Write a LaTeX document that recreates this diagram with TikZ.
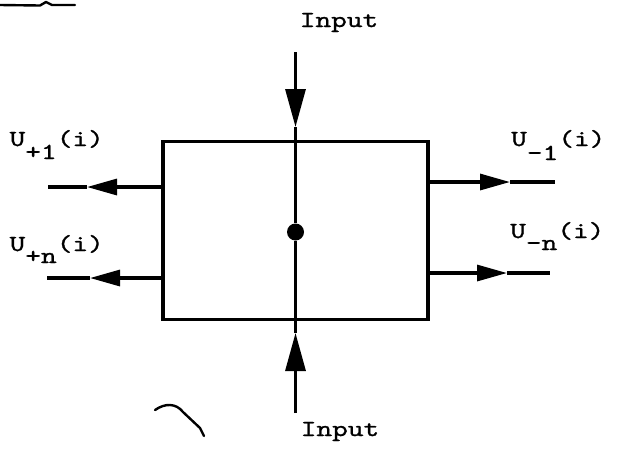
\documentclass[tikz,border=0pt]{standalone}
\usepackage{fontspec}
\newfontfamily\tw[FakeStretch=1.3,FakeBold=1.1]{lmmono10-regular.otf}
\usetikzlibrary{arrows.meta}
\begin{document}
\begin{tikzpicture}[x=1pt,y=-1pt,
  wire/.style={line width=3.2pt},
  harrow/.style={wire,-{Triangle[length=30pt,width=16pt]}},
  varrow/.style={wire,-{Triangle[length=38pt,width=20pt]}},
  lbl/.style={font=\tw\fontsize{23}{26}\selectfont, inner sep=0pt},
  scrib/.style={line width=2.4pt, line cap=round, line join=round}
]
\useasboundingbox (0,0) rectangle (620,448);
% block
\node[draw, wire, minimum width=265pt, minimum height=178pt, inner sep=0pt] (box) at (295.5,230.5) {};
\node[circle, fill, inner sep=0pt, minimum size=17pt] (dot) at (295.5,232) {};
% left outputs
\coordinate (lt) at (48,187);  \coordinate (ltip) at (87,187);
\draw[harrow] (box.west |- lt) -- (ltip); \draw[wire] (ltip) -- (lt);
\coordinate (lb) at (47,278);  \coordinate (lbtip) at (90,278);
\draw[harrow] (box.west |- lb) -- (lbtip); \draw[wire] (lbtip) -- (lb);
% right outputs
\coordinate (rt) at (555,182); \coordinate (rtip) at (510,182);
\draw[harrow] (box.east |- rt) -- (rtip); \draw[wire] (rtip) -- (rt);
\coordinate (rb) at (550,273); \coordinate (rbtip) at (507,273);
\draw[harrow] (box.east |- rb) -- (rbtip); \draw[wire] (rbtip) -- (rb);
% inputs
\coordinate (tt) at (295.5,52); \coordinate (ttip) at (295.5,127);
\draw[varrow] (tt) -- (ttip); \draw[wire] (ttip) -- (box.north);
\draw[wire] (box.north) -- (dot) -- (box.south);
\coordinate (bt) at (295.5,413); \coordinate (btip) at (295.5,333);
\draw[varrow] (bt) -- (btip); \draw[wire] (btip) -- (box.south);
% labels
\node[lbl, anchor=base] (intop) at (339,27) {Input};
\node[lbl, anchor=base] (inbot) at (340,436) {Input};
\node[lbl, anchor=base east] (up1) at (104,146) {U\raisebox{-13pt}{+1}(i)};
\node[lbl, anchor=base east] (upn) at (104,251) {U\raisebox{-12pt}{+n}(i)};
\node[lbl, anchor=base west] (um1) at (511,146) {U\raisebox{-14pt}{-1}(i)};
\node[lbl, anchor=base west] (umn) at (510,238) {U\raisebox{-12pt}{-n}(i)};
% scan marks
\draw[scrib] (0,5) -- (40,5.5) -- (46,2) -- (52,5) -- (75,5);
\draw[scrib] (155,410) .. controls (165,403) and (176,403) .. (183,412) -- (200,428) -- (204,436);
\end{tikzpicture}
\end{document}
